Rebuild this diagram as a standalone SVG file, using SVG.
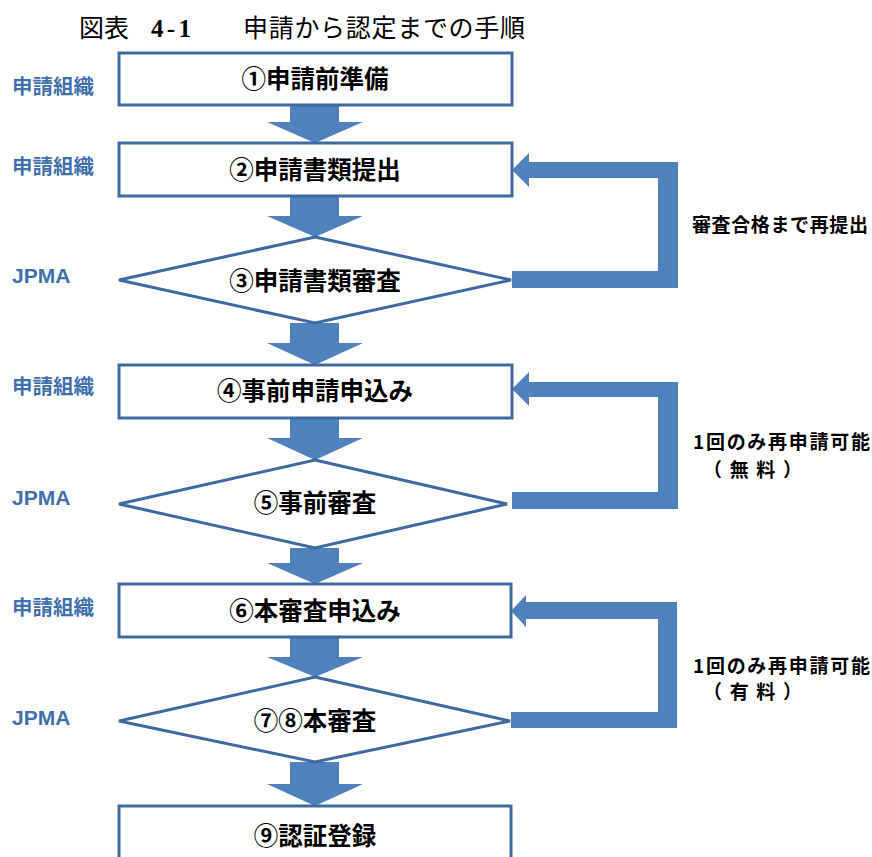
<svg xmlns="http://www.w3.org/2000/svg" width="872" height="857" viewBox="0 0 872 857">
<style>
.bg{fill:#ffffff}
.box{fill:#ffffff;stroke:#3e6a9f;stroke-width:3}
.arr{fill:#4f81bd}
.t{font-family:"Noto Sans CJK JP","Liberation Sans",sans-serif;font-weight:700;font-size:24.5px;fill:#000;text-anchor:middle}
.side{font-family:"Noto Sans CJK JP","Liberation Sans",sans-serif;font-weight:700;font-size:20.5px;fill:#3f70ac}
.jp{font-family:"Liberation Sans",sans-serif;font-weight:700;font-size:21px;fill:#3f70ac}
.note{font-family:"Noto Sans CJK JP","Liberation Sans",sans-serif;font-weight:700;font-size:19px;fill:#000}
.title{font-family:"Liberation Serif","Noto Sans CJK JP",serif;font-size:25px;fill:#000}
</style>
<rect class="bg" x="0" y="0" width="872" height="857"/>
<g id="title">
<text class="title" x="79" y="37">図表</text>
<text class="title" x="151" y="37" font-weight="700" font-size="27" textLength="40">4-1</text>
<text class="title" x="243" y="37" textLength="282">申請から認定までの手順</text>
</g>
<g id="lanes">
<text class="side" x="12" y="94">申請組織</text>
<text class="side" x="12" y="174">申請組織</text>
<text class="jp" x="12" y="283">JPMA</text>
<text class="side" x="12" y="394">申請組織</text>
<text class="jp" x="12" y="505">JPMA</text>
<text class="side" x="12" y="615">申請組織</text>
<text class="jp" x="12" y="725">JPMA</text>
</g>
<g id="connectors">
<polygon class="arr" points="290,105 339,105 339,122 363,122 315,143 267,122 290,122"/>
<polygon class="arr" points="290,196 339,196 339,216 363,216 315,237 267,216 290,216"/>
<polygon class="arr" points="290,323 339,323 339,343 363,343 315,365 267,343 290,343"/>
<polygon class="arr" points="290,418 339,418 339,438 363,438 315,460 267,438 290,438"/>
<polygon class="arr" points="290,548 339,548 339,563 363,563 315,584 267,563 290,563"/>
<polygon class="arr" points="290,637 339,637 339,657 363,657 315,677 267,657 290,657"/>
<polygon class="arr" points="290,762 339,762 339,784 363,784 315,806 267,784 290,784"/>
<g id="loop1">
<polygon class="arr" points="512,170 529,153 529,162 678,162 678,288 512,288 512,271 658,271 658,178 529,178 529,187"/>
</g>
<g id="loop2">
<polygon class="arr" points="512,389 529,372 529,382 678,382 678,509 512,509 512,492 658,492 658,397 529,397 529,406"/>
</g>
<g id="loop3">
<polygon class="arr" points="511,611 526,595 526,602 677,602 677,728 511,728 511,712 658,712 658,619 526,619 526,627"/>
</g>
</g>
<g id="n1"><rect class="box" x="119" y="53" width="393" height="52"/><text class="t" x="315" y="88">①申請前準備</text></g>
<g id="n2"><rect class="box" x="119" y="143" width="393" height="53"/><text class="t" x="315" y="179">②申請書類提出</text></g>
<g id="n3"><polygon class="box" points="315,237 511,280 315,323 119,280"/><text class="t" x="315" y="290">③申請書類審査</text></g>
<g id="n4"><rect class="box" x="119" y="365" width="393" height="53"/><text class="t" x="315" y="400">④事前申請申込み</text></g>
<g id="n5"><polygon class="box" points="315,460 507,504 315,548 119,504"/><text class="t" x="315" y="512">⑤事前審査</text></g>
<g id="n6"><rect class="box" x="119" y="584" width="392" height="53"/><text class="t" x="315" y="620">⑥本審査申込み</text></g>
<g id="n7"><polygon class="box" points="315,677 510,721 315,762 119,721"/><text class="t" x="315" y="730">⑦⑧本審査</text></g>
<g id="n9"><rect class="box" x="119" y="806" width="392" height="60"/><text class="t" x="315" y="845">⑨認証登録</text></g>
<g id="notes">
<text class="note" x="692" y="232" textLength="176">審査合格まで再提出</text>
<text class="note" x="693" y="449" textLength="177">1回のみ再申請可能</text>
<text class="note" x="703" y="477" textLength="99">（無料）</text>
<text class="note" x="693" y="673" textLength="177">1回のみ再申請可能</text>
<text class="note" x="703" y="699" textLength="99">（有料）</text>
</g>
</svg>
